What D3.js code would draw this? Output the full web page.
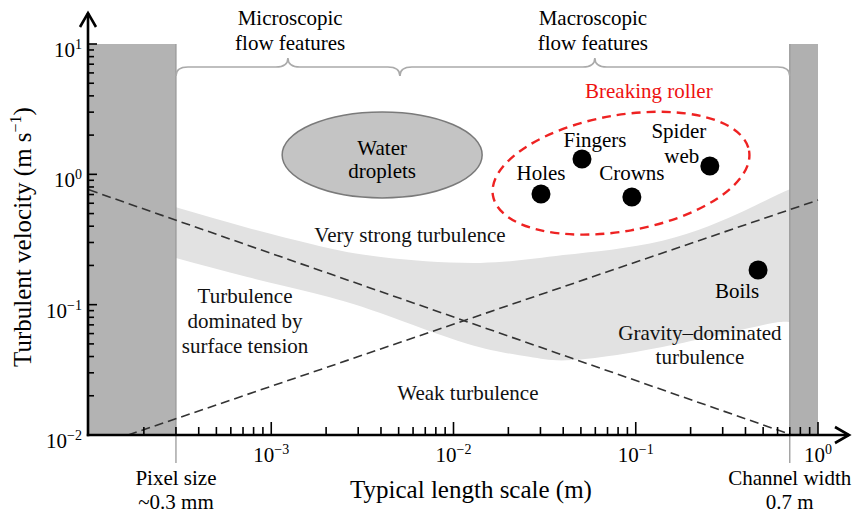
<!DOCTYPE html>
<html><head><meta charset="utf-8">
<script src="https://cdn.jsdelivr.net/npm/d3@7"></script>
<style>
html,body{margin:0;padding:0;background:#fff;}
svg, svg text{font-family:"Liberation Serif","Tinos","Times New Roman",Times,serif;}
</style></head>
<body><svg id="c" width="852" height="519"></svg>
<script>
// ---------- DATA ----------
const xDomain = [1e-4, 1];          // typical length scale (m)
const yDomain = [0.01, 10];         // turbulent velocity (m/s)
const xMajorTicks = [1e-3, 1e-2, 1e-1, 1];
const xMajorLabels = ["\u22123", "\u22122", "\u22121", "0"];
const yMajorTicks = [0.01, 0.1, 1, 10];
const yMajorLabels = ["\u22122", "\u22121", "0", "1"];

const pixelSize = 3e-4;     // m
const channelWidth = 0.7;   // m

// transition band (upper / lower boundary)
const bandUpper = [[3e-4,0.56],[7.4e-4,0.39],[1.7e-3,0.29],[4e-3,0.232],[1.4e-2,0.209],[4e-2,0.24],[0.14,0.31],[0.4,0.53],[0.7,0.77],[1.0,0.87]];
const bandLower = [[3e-4,0.228],[7.4e-4,0.163],[1.7e-3,0.123],[4e-3,0.086],[1.2e-2,0.05],[2.6e-2,0.0398],[4.5e-2,0.0376],[0.14,0.0473],[0.5,0.0698],[0.7,0.0736],[1.0,0.077]];

// scaling lines
const surfaceTensionLine = [[1e-4,0.76],[0.72,0.01]];
const gravityLine = [[1.64e-4,0.01],[1.0,0.635]];

// flow features
const features = [
  {name:"Holes",  L:0.0302, v:0.706},
  {name:"Fingers",L:0.0507, v:1.31},
  {name:"Crowns", L:0.0952, v:0.670},
  {name:"Spider web", L:0.255, v:1.16},
  {name:"Boils",  L:0.469, v:0.1845}
];

// ---------- LAYOUT ----------
const svg = d3.select("#c");
const x = d3.scaleLog().domain(xDomain).range([89, 818]);
const y = d3.scaleLog().domain(yDomain).range([435, 44]);
const FS = 21;

// band
const bl = d3.line().x(d=>x(d[0])).y(d=>y(d[1])).curve(d3.curveNatural);
const up = bl(bandUpper), lo = bl(bandLower.slice().reverse());
svg.append("path").attr("d", up + "L" + lo.slice(1) + "Z").attr("fill","#e2e2e2");

// gray columns
svg.append("rect").attr("x", x(1e-4)).attr("y", y(10)).attr("width", x(pixelSize)-x(1e-4))
  .attr("height", y(0.01)-y(10)).attr("fill","#b3b3b3");
svg.append("rect").attr("x", x(channelWidth)).attr("y", y(10)).attr("width", x(1)-x(channelWidth))
  .attr("height", y(0.01)-y(10)).attr("fill","#b0b0b0");
[pixelSize, channelWidth].forEach(v=>{
  svg.append("line").attr("x1",x(v)).attr("x2",x(v)).attr("y1",y(10)).attr("y2",463)
    .attr("stroke","#999").attr("stroke-width",1.3);
});

// dashed scaling lines
const ll = d3.line().x(d=>x(d[0])).y(d=>y(d[1]));
[surfaceTensionLine, gravityLine].forEach(dat=>{
  svg.append("path").attr("d", ll(dat)).attr("fill","none").attr("stroke","#333")
    .attr("stroke-width",1.6).attr("stroke-dasharray","9,5");
});

// water droplets ellipse
svg.append("ellipse").attr("cx", x(4.06e-3)).attr("cy", y(1.41)).attr("rx",100).attr("ry",43)
  .attr("fill","#c4c4c4").attr("stroke","#7a7a7a").attr("stroke-width",1.5);
svg.append("text").attr("x", x(4.06e-3)).attr("y", y(1.41)).attr("text-anchor","middle")
  .attr("font-size",FS).selectAll("tspan").data(["Water","droplets"]).join("tspan")
  .attr("x", x(4.06e-3)).attr("dy",(d,i)=> i===0 ? "0" : "1.1em").text(d=>d);

// breaking roller ellipse
svg.append("ellipse").attr("transform",`translate(${x(0.083)},${y(1.02)}) rotate(-10)`)
  .attr("rx",130).attr("ry",58).attr("fill","none").attr("stroke","#ee2222")
  .attr("stroke-width",2.4).attr("stroke-dasharray","9,6");
svg.append("text").attr("x", x(0.118)).attr("y", y(3.85)).attr("text-anchor","middle")
  .attr("font-size",FS).attr("fill","#ee1111").text("Breaking roller");

// feature points
svg.selectAll("circle.f").data(features).join("circle").attr("class","f")
  .attr("cx",d=>x(d.L)).attr("cy",d=>y(d.v)).attr("r",9.5).attr("fill","#000");
const lblOff = {"Holes":[0,-14],"Fingers":[13,-12],"Crowns":[0,-17],"Boils":[-21,28]};
features.forEach(d=>{
  if (d.name==="Spider web") {
    const t = svg.append("text").attr("text-anchor","middle").attr("font-size",FS);
    t.append("tspan").attr("x", x(d.L)-31).attr("y", y(d.v)-28).text("Spider");
    t.append("tspan").attr("x", x(d.L)-28).attr("y", y(d.v)-3).text("web");
  } else {
    const o = lblOff[d.name];
    svg.append("text").attr("x", x(d.L)+o[0]).attr("y", y(d.v)+o[1]).attr("text-anchor","middle")
      .attr("font-size",FS).text(d.name);
  }
});

// region labels
function multi(lines, L, v, lh){
  const t = svg.append("text").attr("text-anchor","middle").attr("font-size",FS).attr("fill","#111");
  lines.forEach((s,i)=> t.append("tspan").attr("x", x(L)).attr("y", y(v)+i*lh).text(s));
}
multi(["Very strong turbulence"], 5.77e-3, 0.303, 0);
multi(["Turbulence","dominated by","surface tension"], 7.18e-4, 0.103, 25);
multi(["Weak turbulence"], 0.012, 0.0185, 0);
multi(["Gravity\u2013dominated","turbulence"], 0.225, 0.0536, 24);

// braces
function brace(a, b, yy){
  const x1 = x(a), x2 = x(b), m = (x1+x2)/2, h = 9, q = 12;
  return `M${x1},${yy+h} Q${x1},${yy} ${x1+q},${yy} L${m-q},${yy} Q${m},${yy} ${m},${yy-h} ` +
         `Q${m},${yy} ${m+q},${yy} L${x2-q},${yy} Q${x2},${yy} ${x2},${yy+h}`;
}
const braceSplit = 5.08e-3;
svg.append("path").attr("d", brace(pixelSize, braceSplit, 67)).attr("fill","none").attr("stroke","#aaa").attr("stroke-width",1.6);
svg.append("path").attr("d", brace(braceSplit, channelWidth, 67)).attr("fill","none").attr("stroke","#aaa").attr("stroke-width",1.6);
const topLbl = svg.append("g").attr("font-size",FS).attr("text-anchor","middle");
[[1.27e-3,"Microscopic"],[0.0582,"Macroscopic"]].forEach(([L,s])=>{
  topLbl.append("text").attr("x",x(L)).attr("y",25).text(s);
  topLbl.append("text").attr("x",x(L)).attr("y",50).text("flow features");
});

// ---------- AXES ----------
const ax = svg.append("g").attr("stroke","#000");
const x0 = 88, y0 = 435;
x.ticks().filter(v=>v>1.01e-4 && v<=1.0001).forEach(v=>{
  const major = Math.abs(Math.log10(v) - Math.round(Math.log10(v))) < 1e-6;
  ax.append("line").attr("x1",x(v)).attr("x2",x(v)).attr("y1",y0).attr("y2",y0-(major?13:8)).attr("stroke-width",1.6);
});
y.ticks().filter(v=>v>0.0101 && v<=10.001).forEach(v=>{
  const major = Math.abs(Math.log10(v) - Math.round(Math.log10(v))) < 1e-6;
  ax.append("line").attr("y1",y(v)).attr("y2",y(v)).attr("x1",x0).attr("x2",x0+(major?9:6)).attr("stroke-width",1.6);
});
ax.append("line").attr("x1",x0).attr("x2",x0).attr("y1",y0+1.2).attr("y2",13).attr("stroke-width",2.6);
ax.append("line").attr("x1",x0-1.2).attr("x2",849).attr("y1",y0).attr("y2",y0).attr("stroke-width",2.6);
ax.append("path").attr("d",`M${x0-8},27 L${x0},13 L${x0+8},27`).attr("fill","none").attr("stroke-width",2.6);
ax.append("path").attr("d",`M835,${y0-8} L849,${y0} L835,${y0+8}`).attr("fill","none").attr("stroke-width",2.6);

// tick labels
xMajorTicks.forEach((v,i)=>{
  const t = svg.append("text").attr("x",x(v)).attr("y",462).attr("text-anchor","middle").attr("font-size",FS);
  t.append("tspan").text("10");
  t.append("tspan").attr("font-size",14).attr("dy",-8).text(xMajorLabels[i]);
});
yMajorTicks.forEach((v,i)=>{
  const t = svg.append("text").attr("x",82).attr("y",y(v)+13).attr("text-anchor","end").attr("font-size",FS);
  t.append("tspan").text("10");
  t.append("tspan").attr("font-size",14).attr("dy",-8).text(yMajorLabels[i]);
});

// annotations under axis
[[pixelSize,"Pixel size","~0.3 mm"],[channelWidth,"Channel width","0.7 m"]].forEach(([v,a,b])=>{
  svg.append("text").attr("x",x(v)).attr("y",485).attr("text-anchor","middle").attr("font-size",FS).text(a);
  svg.append("text").attr("x",x(v)).attr("y",509).attr("text-anchor","middle").attr("font-size",FS).text(b);
});

// axis titles
svg.append("text").attr("x",471).attr("y",498).attr("text-anchor","middle").attr("font-size",25)
  .text("Typical length scale (m)");
const yt = svg.append("text").attr("transform","translate(31,237) rotate(-90)").attr("text-anchor","middle").attr("font-size",25);
yt.append("tspan").text("Turbulent velocity (m s");
yt.append("tspan").attr("font-size",16).attr("dy",-10).text("\u22121");
yt.append("tspan").attr("dy",10).text(")");
</script></body></html>
